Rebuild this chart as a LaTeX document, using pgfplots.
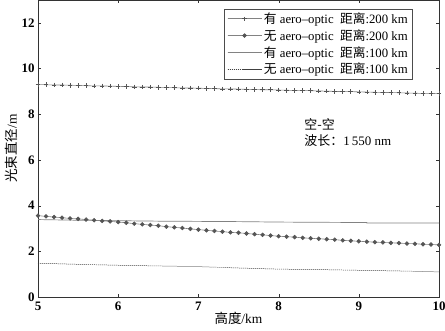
\documentclass[border=0pt]{standalone}
\usepackage{fontspec}
\setmainfont{Liberation Serif}
\newfontfamily\cjk{Noto Sans CJK SC}
\usepackage{pgfplots}
\usepackage{pgfplotstable}
\pgfplotsset{compat=1.18}
\definecolor{sgray}{RGB}{130,130,130}
\definecolor{dgray}{RGB}{85,85,85}
\pgfplotstableread{
x s1 s2
5.0 9.30 3.56
5.1 9.29 3.53
5.2 9.28 3.50
5.3 9.28 3.47
5.4 9.27 3.44
5.5 9.26 3.42
5.6 9.25 3.39
5.7 9.24 3.36
5.8 9.24 3.33
5.9 9.23 3.31
6.0 9.22 3.28
6.1 9.21 3.25
6.2 9.20 3.21
6.3 9.19 3.18
6.4 9.19 3.15
6.5 9.18 3.12
6.6 9.17 3.08
6.7 9.16 3.05
6.8 9.15 3.02
6.9 9.15 2.98
7.0 9.14 2.95
7.1 9.13 2.92
7.2 9.12 2.89
7.3 9.11 2.86
7.4 9.11 2.83
7.5 9.10 2.81
7.6 9.09 2.78
7.7 9.08 2.75
7.8 9.07 2.72
7.9 9.07 2.69
8.0 9.06 2.66
8.1 9.05 2.64
8.2 9.04 2.62
8.3 9.03 2.59
8.4 9.03 2.57
8.5 9.02 2.55
8.6 9.01 2.53
8.7 9.00 2.51
8.8 8.99 2.48
8.9 8.99 2.46
9.0 8.98 2.44
9.1 8.97 2.42
9.2 8.96 2.40
9.3 8.95 2.39
9.4 8.95 2.37
9.5 8.94 2.36
9.6 8.93 2.34
9.7 8.92 2.33
9.8 8.91 2.31
9.9 8.91 2.30
10.0 8.90 2.28
}\datatab
\begin{document}
\begin{tikzpicture}
\begin{axis}[
  name=ax,
  scale only axis,
  width=401bp, height=297bp,
  xmin=5, xmax=10, ymin=0, ymax=13,
  xtick={5,6,7,8,9,10},
  ytick={0,2,4,6,8,10,12},
  tick align=inside,
  major tick length=3.5bp,
  axis line style={draw=black!80, line width=0.6pt},
  tick style={draw=black!80},
  /pgf/number format/assume math mode=true,
  tick label style={font=\bfseries\fontsize{13}{13}\selectfont},
  xticklabel style={yshift=-1bp},
  xlabel={{\cjk 高度}/km},
  ylabel={{\cjk 光束直径}/m},
  label style={font=\fontsize{13.5}{14}\selectfont},
  xlabel style={at={(axis description cs:0.5,-0.072)}, anchor=center},
  ylabel style={at={(axis description cs:-0.066,0.5)}, anchor=center},
  legend style={at={(rel axis cs:0.935,0.970)}, anchor=north east,
    draw=black!70, line width=0.5pt,
    font=\fontsize{12.8}{13}\selectfont, row sep=0.5bp,
    inner xsep=3bp, inner ysep=1.5bp},
  legend cell align=left,
  legend image code/.code={
    \draw[#1] (0bp,0bp) -- (34bp,0bp);
    \draw[#1,mark repeat=2,mark phase=2] plot coordinates {(0bp,0bp) (17bp,0bp) (34bp,0bp)};
  },
]
\addplot[sgray, line width=0.6pt, mark=+, mark size=2.3pt, mark options={draw=dgray, line width=0.6pt}]
  table[x=x,y=s1]{\datatab};
\addlegendentry{{\cjk 有} aero--optic\enspace{\cjk 距离}:200 km}
\addplot[sgray, line width=0.6pt, mark=*, mark size=1.9pt, mark options={draw=dgray, fill=dgray}]
  table[x=x,y=s2]{\datatab};
\addlegendentry{{\cjk 无} aero--optic\enspace{\cjk 距离}:200 km}
\addplot[sgray, line width=0.7pt] coordinates {
(5.0,3.39) (5.5,3.36) (6.0,3.34) (6.5,3.32) (7.0,3.31) (7.5,3.30) (8.0,3.28) (8.5,3.27) (9.1,3.26) (9.1,3.24) (10.0,3.24)};
\addlegendentry{{\cjk 有} aero--optic\enspace{\cjk 距离}:100 km}
\addplot[black!75, line width=0.5pt, dash pattern=on 1.2pt off 0.8pt] coordinates {
(5.0,1.48) (5.5,1.43) (6.0,1.39) (6.5,1.36) (7.0,1.33) (7.5,1.27) (8.0,1.22) (8.5,1.20) (9.0,1.17) (9.5,1.14) (10.0,1.10)};
\addlegendentry{{\cjk 无} aero--optic\enspace{\cjk 距离}:100 km}
\node[anchor=north west, align=left, font=\fontsize{13}{16}\selectfont, inner sep=0pt]
  at (axis cs:8.32,7.8) {{\cjk 空-空}\\{\cjk 波长：}1\,550 nm};
\end{axis}
\pgfresetboundingbox
\path ([xshift=-38bp,yshift=-33bp]ax.south west) rectangle ([xshift=6bp]ax.north east);
\end{tikzpicture}
\end{document}
